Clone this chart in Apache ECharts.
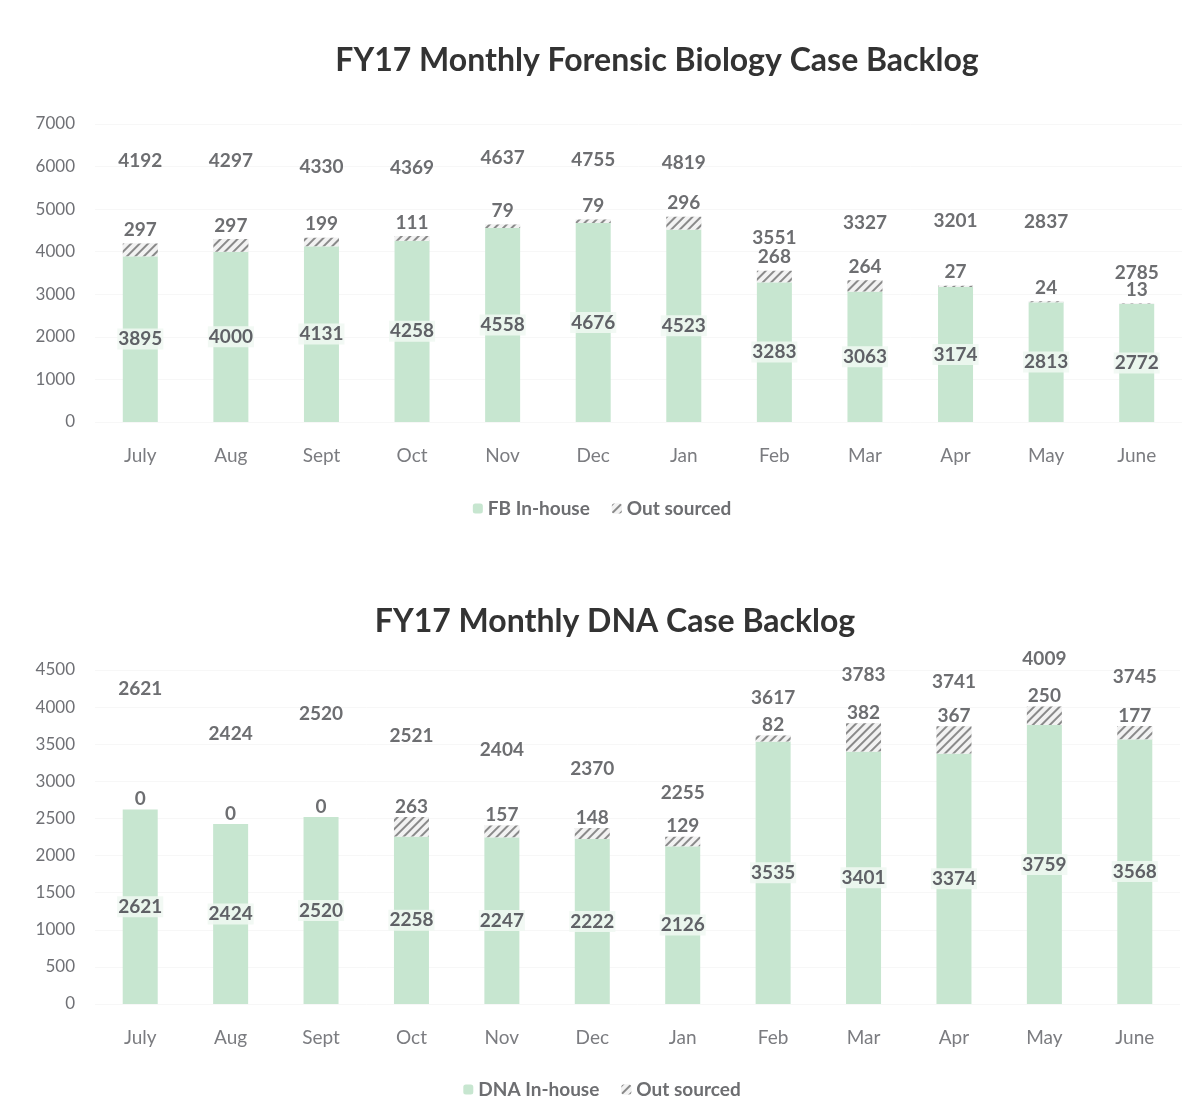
<!DOCTYPE html>
<html>
<head>
<meta charset="utf-8">
<script src="https://cdn.jsdelivr.net/npm/echarts@6/dist/echarts.min.js"></script>
<style>
  html, body { margin: 0; padding: 0; background: #fff; }
  #main { width: 1204px; height: 1118px; }
</style>
</head>
<body>
<div id="main"></div>
<script>
// months on both charts
const months = ['July', 'Aug', 'Sept', 'Oct', 'Nov', 'Dec', 'Jan', 'Feb', 'Mar', 'Apr', 'May', 'June']

// forensic biology backlog
const fbInHouse = [3895, 4000, 4131, 4258, 4558, 4676, 4523, 3283, 3063, 3174, 2813, 2772]
const fbOutSourced = [297, 297, 199, 111, 79, 79, 296, 268, 264, 27, 24, 13]
const fbTotal = [4192, 4297, 4330, 4369, 4637, 4755, 4819, 3551, 3327, 3201, 2837, 2785]

// DNA backlog
const dnaInHouse = [2621, 2424, 2520, 2258, 2247, 2222, 2126, 3535, 3401, 3374, 3759, 3568]
const dnaOutSourced = [0, 0, 0, 263, 157, 148, 129, 82, 382, 367, 250, 177]
const dnaTotal = [2621, 2424, 2520, 2521, 2404, 2370, 2255, 3617, 3783, 3741, 4009, 3745]

// how far (px) each total label floats above its stack, as placed in the original
const fbTotalLift = [83, 79, 71, 69, 67, 60, 54, 33, 58, 65, 80, 31]
const dnaTotalLift = [121, 91, 104, 82, 76, 60, 44, 38, 49, 45, 48, 50]

const FONT = 'Lato, "Open Sans", sans-serif'
const GREEN = '#c7e6d0'
const GREY = '#6d6e71'

const hatch = {
  symbol: 'rect',
  symbolSize: 1,
  color: '#8a8a8a',
  backgroundColor: '#f2f2f2',
  dashArrayX: [1, 0],
  dashArrayY: [2, 4],
  rotation: -Math.PI / 4
}

function barSeries(name, data, idx, stack, out) {
  return {
    name: name,
    type: 'bar',
    stack: stack,
    xAxisIndex: idx,
    yAxisIndex: idx,
    barWidth: 35,
    data: data,
    itemStyle: out ? { color: '#f2f2f2', decal: hatch } : { color: GREEN },
    label: out ? {
      show: true,
      position: 'top',
      distance: idx === 0 ? 4 : 1,
      color: GREY,
      fontFamily: FONT,
      fontWeight: 'bold',
      fontSize: 19
    } : {
      show: true,
      position: 'inside',
      color: '#5f6166',
      fontFamily: FONT,
      fontWeight: 'bold',
      fontSize: 19,
      backgroundColor: 'rgba(240,248,242,0.85)',
      padding: [1, 1]
    }
  }
}

function totalSeries(totals, lifts, idx) {
  return {
    name: 'Total',
    type: 'scatter',
    xAxisIndex: idx,
    yAxisIndex: idx,
    symbolSize: 0,
    silent: true,
    itemStyle: { opacity: 1 },
    data: totals.map((v, i) => ({
      value: v,
      label: { distance: lifts[i] - 10 }
    })),
    label: {
      show: true,
      position: 'top',
      color: GREY,
      fontFamily: FONT,
      fontWeight: 'bold',
      fontSize: 19
    }
  }
}

const xAxisCommon = {
  type: 'category',
  data: months,
  axisLine: { show: false },
  axisTick: { show: false },
  axisLabel: { color: '#7b7c80', fontFamily: FONT, fontSize: 19, margin: 24 }
}

const yAxisCommon = {
  type: 'value',
  min: 0,
  axisLine: { show: false },
  axisTick: { show: false },
  splitLine: { lineStyle: { color: '#f7f7f7' } },
  axisLabel: { color: '#6f7075', fontFamily: FONT, fontSize: 17, margin: 20, formatter: v => String(v) }
}

const myChart = echarts.init(document.getElementById('main'))
myChart.setOption({
  animation: false,
  backgroundColor: '#fff',
  title: [
    {
      text: 'FY17 Monthly Forensic Biology Case Backlog',
      left: 652, top: 40, textAlign: 'center',
      textStyle: { color: '#333', fontFamily: FONT, fontWeight: 'bold', fontSize: 32 }
    },
    {
      text: 'FY17 Monthly DNA Case Backlog',
      left: 610, top: 601, textAlign: 'center',
      textStyle: { color: '#333', fontFamily: FONT, fontWeight: 'bold', fontSize: 32 }
    }
  ],
  legend: [
    {
      data: ['FB In-house', 'Out sourced'],
      left: 'center', top: 494,
      itemWidth: 10, itemHeight: 10, itemGap: 22,
      textStyle: { color: GREY, fontFamily: FONT, fontWeight: 'bold', fontSize: 19 }
    },
    {
      data: ['DNA In-house', 'Out sourced'],
      left: 'center', top: 1075,
      itemWidth: 10, itemHeight: 10, itemGap: 22,
      textStyle: { color: GREY, fontFamily: FONT, fontWeight: 'bold', fontSize: 19 }
    }
  ],
  grid: [
    { left: 95, right: 22, top: 124, height: 298 },
    { left: 95, right: 24, top: 670, height: 334 }
  ],
  xAxis: [
    Object.assign({ gridIndex: 0 }, xAxisCommon),
    Object.assign({ gridIndex: 1 }, xAxisCommon)
  ],
  yAxis: [
    Object.assign({ gridIndex: 0, max: 7000, interval: 1000 }, yAxisCommon),
    Object.assign({ gridIndex: 1, max: 4500, interval: 500 }, yAxisCommon)
  ],
  series: [
    barSeries('FB In-house', fbInHouse, 0, 'fb', false),
    barSeries('Out sourced', fbOutSourced, 0, 'fb', true),
    totalSeries(fbTotal, fbTotalLift, 0),
    barSeries('DNA In-house', dnaInHouse, 1, 'dna', false),
    barSeries('Out sourced', dnaOutSourced, 1, 'dna', true),
    totalSeries(dnaTotal, dnaTotalLift, 1)
  ]
})
</script>
</body>
</html>
